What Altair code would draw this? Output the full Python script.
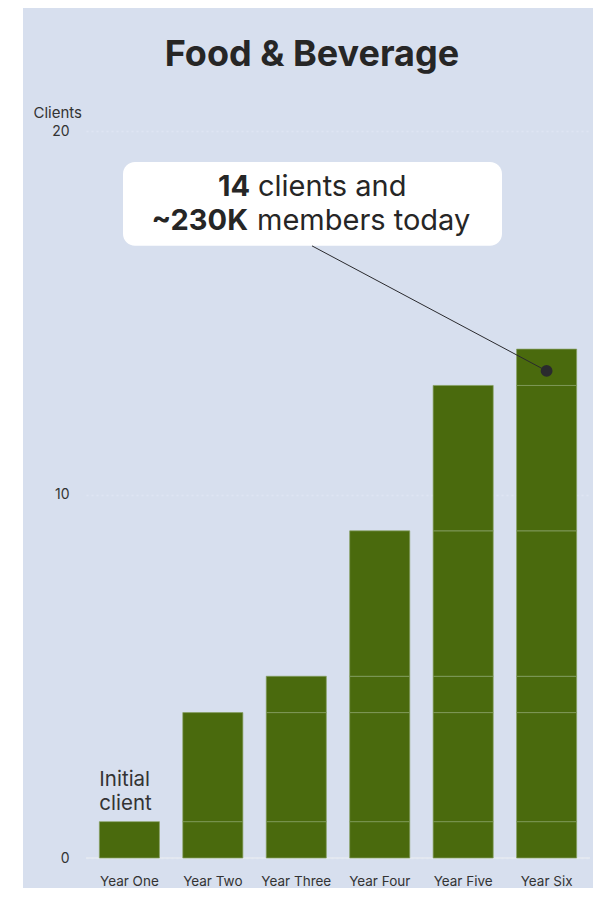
import altair as alt
import pandas as pd

# ---- data ----
years = ["Year One", "Year Two", "Year Three", "Year Four", "Year Five", "Year Six"]
clients = [1, 4, 5, 9, 13, 14]          # cumulative clients at each year

# stacked segments: each year's bar is made of the cohorts added so far
rows = []
for i, yr in enumerate(years):
    for j in range(i + 1):
        lo = clients[j - 1] if j > 0 else 0
        rows.append({"year": yr, "lo": lo, "hi": clients[j], "cohort": j})
seg = pd.DataFrame(rows)

callout_year = "Year Six"
callout_point = 13.4
one = pd.DataFrame({"k": [0]})

BG = "#d7dfee"
BAR = "#4a6a0d"
TXT = "#262626"
FONT = "Inter"

xscale = alt.Scale(domain=years, paddingInner=0.28, paddingOuter=0.16)
yscale = alt.Scale(domain=[0, 20], nice=False)

bars = alt.Chart(seg).mark_bar(
    color=BAR, stroke="#86a063", strokeWidth=1, strokeOpacity=0.7
).encode(
    x=alt.X("year:N", sort=years, scale=xscale,
            axis=alt.Axis(title=None, labelAngle=0, labelFontSize=13.5, labelColor="#333333",
                          labelPadding=16, domain=False, ticks=False, grid=False, labelFont=FONT)),
    y=alt.Y("lo:Q", scale=yscale,
            axis=alt.Axis(values=[0, 10, 20], grid=True, gridDash=[2, 3], gridColor="#dfe5f3",
                          gridWidth=1.5, domain=False, ticks=False, labelFontSize=14,
                          labelColor="#333333", labelPadding=17, labelFont=FONT,
                          title="Clients", titleAngle=0, titleAlign="left", titleBaseline="middle",
                          titleX=-53, titleY=-19, titleFontWeight="normal", titleFontSize=15,
                          titleColor="#333333", titleFont=FONT)),
    y2="hi:Q",
)

strip = alt.Chart(one).mark_rect(color="white").encode(
    x=alt.value(-78), x2=alt.value(-63), y=alt.value(-123), y2=alt.value(757)
)

zero = alt.Chart(one).mark_rule(color="#e6eaf1", strokeWidth=1.5).encode(
    y=alt.datum(0, scale=yscale), x=alt.value(0), x2=alt.value(504)
)

title = alt.Chart(one).mark_text(
    text="Food & Beverage", align="center", baseline="middle", fontSize=36,
    fontWeight="bold", color=TXT, font=FONT
).encode(x=alt.value(226), y=alt.value(-76))

box = alt.Chart(one).mark_rect(color="white", cornerRadius=12).encode(
    x=alt.value(37), x2=alt.value(416), y=alt.datum(19.15), y2=alt.datum(16.84)
)

cdf = pd.DataFrame({"year": [callout_year], "v": [callout_point]})
leader = alt.Chart(cdf).mark_rule(color="#2a2a2e", strokeWidth=1).encode(
    x=alt.X("year:N", sort=years), y="v:Q", x2=alt.value(226), y2=alt.datum(16.84)
)
dot = alt.Chart(cdf).mark_point(filled=True, color="#2a2a2e", size=140, opacity=1).encode(
    x=alt.X("year:N", sort=years), y="v:Q"
)

def txt(text, x, y, align, weight, size=29):
    return alt.Chart(one).mark_text(
        text=text, align=align, baseline="middle", fontSize=size, fontWeight=weight,
        color=TXT, font=FONT
    ).encode(x=alt.value(x), y=alt.datum(y))

t1 = txt("14", 164, 18.46, "right", "bold")
t2 = txt("clients and", 172, 18.46, "left", "normal")
t3 = txt("~230K", 162, 17.52, "right", "bold")
t4 = txt("members today", 171, 17.52, "left", "normal")

idf = pd.DataFrame({"year": ["Year One"], "v": [2.14]})
initial = alt.Chart(idf).mark_text(
    text=["Initial", "client"], align="left", baseline="middle", fontSize=20.5,
    lineHeight=24, color="#333333", font=FONT
).encode(x=alt.X("year:N", sort=years, bandPosition=0), y="v:Q")

chart = alt.layer(
    strip, zero, bars, title, box, leader, dot, t1, t2, t3, t4, initial
).properties(
    width=504, height=727,
    padding={"left": 78, "top": 123, "right": 3, "bottom": 30},
    autosize=alt.AutoSizeParams(type="none"),
    background=BG,
).configure_view(stroke=None)

chart.save("out.html", embed_options={"renderer": "svg", "actions": False})
